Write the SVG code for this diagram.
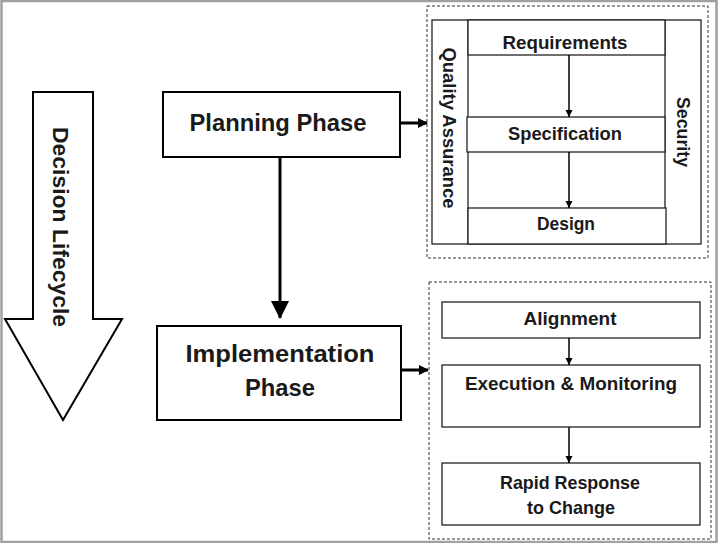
<svg xmlns="http://www.w3.org/2000/svg" width="718" height="543" viewBox="0 0 718 543">
<style>
.box{fill:#fff;stroke:#000;stroke-width:2}
.thin{fill:#fff;stroke:#222;stroke-width:1.3}
.dash{fill:none;stroke:#333;stroke-width:1;stroke-dasharray:3 2}
.t{font-family:"Liberation Sans",Arial,sans-serif;font-weight:bold;fill:#1a1a1a;text-anchor:middle}
.big{font-size:24px}
.sm{font-size:19px}
.conn{stroke:#000;fill:none}
</style>
<defs>
<marker id="ah" markerWidth="10" markerHeight="10" refX="9" refY="5" orient="auto" markerUnits="userSpaceOnUse" viewBox="0 0 10 10">
<path d="M0,0 L10,5 L0,10 Z" fill="#000"/>
</marker>
<marker id="ahs" markerWidth="7" markerHeight="8" refX="7" refY="4" orient="auto" markerUnits="userSpaceOnUse" viewBox="0 0 7 8">
<path d="M0,0.5 L7,4 L0,7.5 Z" fill="#000"/>
</marker>
<marker id="ahb" markerWidth="18" markerHeight="18" refX="17" refY="9" orient="auto" markerUnits="userSpaceOnUse" viewBox="0 0 18 18">
<path d="M0,0 L18,9 L0,18 Z" fill="#000"/>
</marker>
</defs>
<rect x="0" y="0" width="718" height="543" fill="#fff"/>
<rect x="1.5" y="1" width="715" height="541" fill="none" stroke="#a0a0a0" stroke-width="2.5"/>

<g id="lifecycle">
<path d="M33,92 L93,92 L93,319 L122,319 L63,420 L5,319 L33,319 Z" fill="#fff" stroke="#000" stroke-width="2"/>
<text class="t" font-size="22" transform="translate(53,227) rotate(90)" textLength="200" lengthAdjust="spacingAndGlyphs" y="0">Decision Lifecycle</text>
</g>

<g id="planning">
<rect class="box" x="163" y="92" width="237" height="65"/>
<text class="t big" x="278" y="131" textLength="177" lengthAdjust="spacingAndGlyphs">Planning Phase</text>
</g>

<g id="implementation">
<rect class="box" x="157" y="326" width="244" height="94"/>
<text class="t big" x="280" y="362" textLength="189" lengthAdjust="spacingAndGlyphs">Implementation</text>
<text class="t big" x="280" y="396" textLength="70" lengthAdjust="spacingAndGlyphs">Phase</text>
</g>

<g id="planning-detail">
<rect class="dash" x="427" y="6" width="281" height="252"/>
<rect class="thin" x="432" y="20" width="269" height="224"/>
<line x1="468" y1="20" x2="468" y2="244" stroke="#222" stroke-width="1.3"/>
<line x1="665" y1="20" x2="665" y2="244" stroke="#222" stroke-width="1.3"/>
<text class="t sm" transform="translate(443,128) rotate(90)" textLength="161" lengthAdjust="spacingAndGlyphs">Quality Assurance</text>
<text class="t sm" transform="translate(677,132) rotate(90)" textLength="70" lengthAdjust="spacingAndGlyphs">Security</text>
</g>
<g id="requirements">
<rect class="thin" x="468" y="20" width="197" height="35"/>
<text class="t sm" x="565" y="49" textLength="125" lengthAdjust="spacingAndGlyphs">Requirements</text>
</g>
<g id="specification">
<rect class="thin" x="467" y="117" width="198" height="35"/>
<text class="t sm" x="565" y="140" textLength="114" lengthAdjust="spacingAndGlyphs">Specification</text>
</g>
<g id="design">
<rect class="thin" x="468" y="208" width="198" height="36"/>
<text class="t sm" x="566" y="230" textLength="58" lengthAdjust="spacingAndGlyphs">Design</text>
</g>

<g id="implementation-detail">
<rect class="dash" x="429" y="282" width="282" height="257"/>
</g>
<g id="alignment">
<rect class="thin" x="442" y="302" width="258" height="36"/>
<text class="t sm" x="570" y="325" textLength="93" lengthAdjust="spacingAndGlyphs">Alignment</text>
</g>
<g id="execution">
<rect class="thin" x="442" y="365" width="258" height="62"/>
<text class="t sm" x="571" y="390" textLength="212" lengthAdjust="spacingAndGlyphs">Execution &amp; Monitoring</text>
</g>
<g id="rapid">
<rect class="thin" x="442" y="463" width="258" height="62"/>
<text class="t sm" x="570" y="489" textLength="140" lengthAdjust="spacingAndGlyphs">Rapid Response</text>
<text class="t sm" x="571" y="514" textLength="88" lengthAdjust="spacingAndGlyphs">to Change</text>
</g>

<g id="connectors">
<line class="conn" x1="280" y1="157" x2="280" y2="318" stroke-width="3" marker-end="url(#ahb)"/>
<line class="conn" x1="400" y1="123" x2="427" y2="123" stroke-width="3" marker-end="url(#ah)"/>
<line class="conn" x1="401" y1="370" x2="428" y2="370" stroke-width="3" marker-end="url(#ah)"/>
<line class="conn" x1="569" y1="55" x2="569" y2="117" stroke-width="1.5" marker-end="url(#ahs)"/>
<line class="conn" x1="569" y1="152" x2="569" y2="208" stroke-width="1.5" marker-end="url(#ahs)"/>
<line class="conn" x1="569" y1="338" x2="569" y2="365" stroke-width="1.5" marker-end="url(#ahs)"/>
<line class="conn" x1="569" y1="427" x2="569" y2="463" stroke-width="1.5" marker-end="url(#ahs)"/>
</g>
</svg>
